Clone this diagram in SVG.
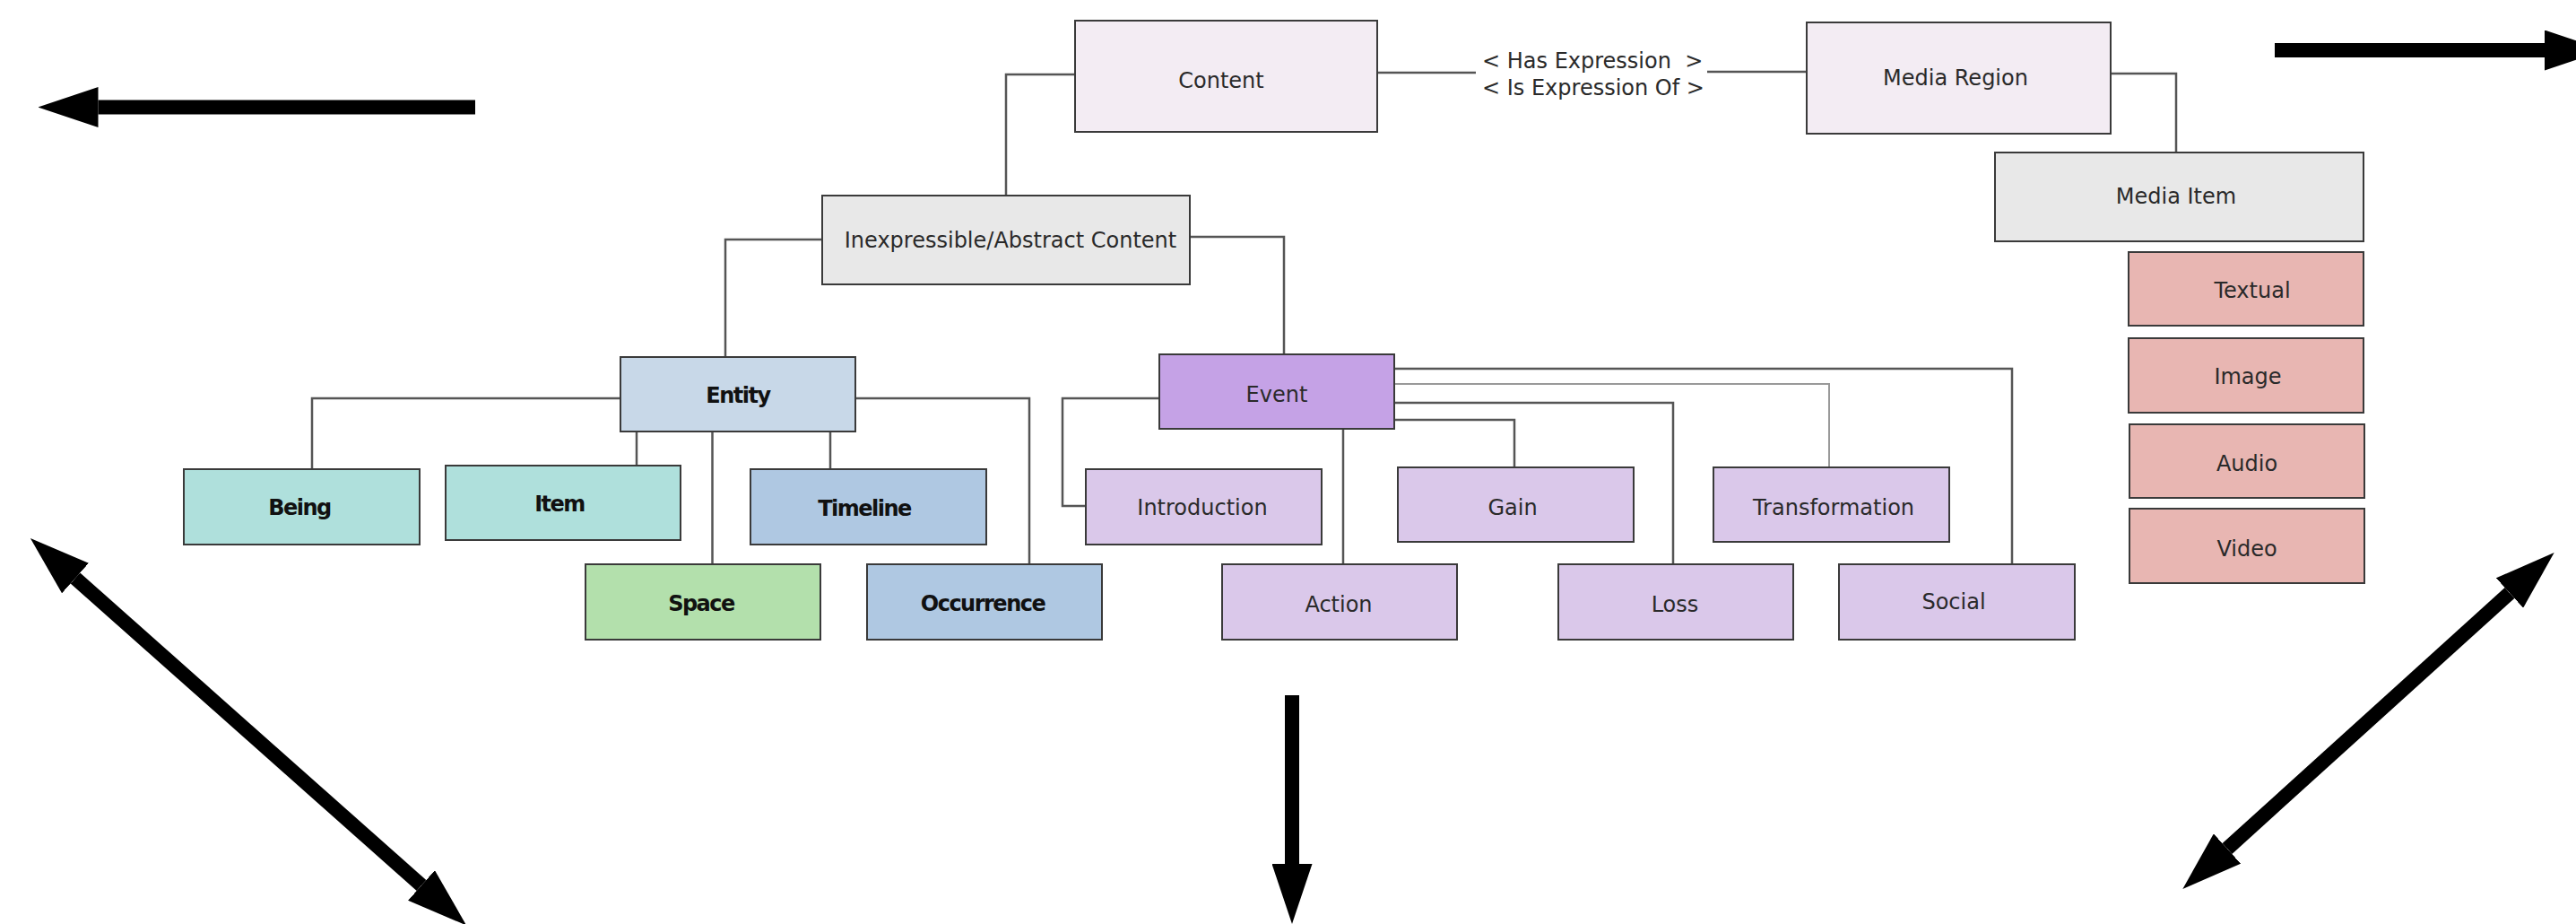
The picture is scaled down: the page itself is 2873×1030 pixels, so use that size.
<svg xmlns="http://www.w3.org/2000/svg" width="2873" height="1030" viewBox="0 0 2873 1030">
<style>
.box{stroke:#3a3a3a;stroke-width:2}
.lbl{font-family:"DejaVu Sans",sans-serif;font-size:24px;fill:#2a2a2a;text-anchor:middle}
.bold{font-family:"DejaVu Sans",sans-serif;font-size:24px;font-weight:bold;fill:#111;text-anchor:middle;letter-spacing:-1.5px}
.rel{font-family:"DejaVu Sans",sans-serif;font-size:24px;fill:#2a2a2a;white-space:pre}
.con{fill:none;stroke:#555;stroke-width:2.5}
.light{fill:none;stroke:#999;stroke-width:2}
.big{fill:none;stroke:#000;stroke-width:16}
.c-content{fill:#f3ecf3}.c-grey{fill:#e8e8e8}.c-entity{fill:#c8d8e8}.c-teal{fill:#afe0dc}
.c-blue{fill:#afc8e2}.c-green{fill:#b3e0ac}.c-event{fill:#c5a2e6}.c-sub{fill:#dac8ea}.c-media{fill:#e8b6b2}
</style>
<defs>
<marker id="head" viewBox="0 0 67 45" markerWidth="67" markerHeight="45" refX="0" refY="22.5" markerUnits="userSpaceOnUse" orient="auto-start-reverse">
<path d="M0,0 L67,22.5 L0,45 Z" fill="#000"/>
</marker>
</defs>
<rect width="2873" height="1030" fill="#fff"/>

<g id="connectors">
<polyline class="con" points="1199,83 1122,83 1122,218"/>
<line class="con" x1="1536" y1="81" x2="1646" y2="81"/>
<line class="con" x1="1904" y1="80" x2="2015" y2="80"/>
<polyline class="con" points="2354,82 2427,82 2427,170"/>
<polyline class="con" points="917,267 809,267 809,398"/>
<polyline class="con" points="1327,264 1432,264 1432,395"/>
<polyline class="con" points="692,444 348,444 348,523"/>
<line class="con" x1="710" y1="481" x2="710" y2="519"/>
<line class="con" x1="794.5" y1="481" x2="794.5" y2="629"/>
<line class="con" x1="926" y1="481" x2="926" y2="523"/>
<polyline class="con" points="954.5,444 1148,444 1148,629"/>
<polyline class="con" points="1293,444 1185,444 1185,564 1211,564"/>
<line class="con" x1="1498" y1="478" x2="1498" y2="629"/>
<polyline class="con" points="1555.6,468 1689,468 1689,521"/>
<polyline class="con" points="1555.6,449 1866,449 1866,629"/>
<polyline class="light" points="1555.6,428 2040,428 2040,521"/>
<polyline class="con" points="1555.6,411 2244,411 2244,629"/>
<text class="rel" x="1653" y="76">&lt; Has Expression  &gt;</text>
<text class="rel" x="1653" y="106">&lt; Is Expression Of &gt;</text>
</g>

<g id="arrows">
<line class="big" x1="530" y1="119.5" x2="109.5" y2="119.5" marker-end="url(#head)"/>
<line class="big" x1="2537" y1="56" x2="2838" y2="56" marker-end="url(#head)"/>
<line class="big" x1="1441" y1="775" x2="1441" y2="963" marker-end="url(#head)"/>
<line class="big" x1="84" y1="644.5" x2="470" y2="987" marker-start="url(#head)" marker-end="url(#head)"/>
<line class="big" x1="2799" y1="661" x2="2484" y2="946" marker-start="url(#head)" marker-end="url(#head)"/>
</g>

<g id="content"><rect class="box c-content" x="1199" y="23" width="337" height="124"/><text class="lbl" x="1362" y="98">Content</text></g>
<g id="media-region"><rect class="box c-content" x="2015" y="25" width="339" height="124"/><text class="lbl" x="2181" y="95">Media Region</text></g>
<g id="media-item"><rect class="box c-grey" x="2225" y="170" width="411" height="99"/><text class="lbl" x="2427" y="227">Media Item</text></g>
<g id="textual"><rect class="box c-media" x="2374" y="281" width="262" height="82"/><text class="lbl" x="2512" y="332">Textual</text></g>
<g id="image"><rect class="box c-media" x="2374" y="377" width="262" height="83"/><text class="lbl" x="2507" y="428">Image</text></g>
<g id="audio"><rect class="box c-media" x="2375" y="473" width="262" height="82"/><text class="lbl" x="2506" y="525">Audio</text></g>
<g id="video"><rect class="box c-media" x="2375" y="567" width="262" height="83"/><text class="lbl" x="2506" y="620">Video</text></g>
<g id="inexpressible"><rect class="box c-grey" x="917" y="218" width="410" height="99"/><text class="lbl" x="1127" y="276">Inexpressible/Abstract Content</text></g>
<g id="entity"><rect class="box c-entity" x="692" y="398" width="262" height="83"/><text class="bold" x="823" y="449">Entity</text></g>
<g id="being"><rect class="box c-teal" x="205" y="523" width="263" height="84"/><text class="bold" x="334" y="574">Being</text></g>
<g id="item"><rect class="box c-teal" x="497" y="519" width="262" height="83"/><text class="bold" x="624" y="570">Item</text></g>
<g id="timeline"><rect class="box c-blue" x="837" y="523" width="263" height="84"/><text class="bold" x="964" y="575">Timeline</text></g>
<g id="space"><rect class="box c-green" x="653" y="629" width="262" height="84"/><text class="bold" x="782" y="681">Space</text></g>
<g id="occurrence"><rect class="box c-blue" x="967" y="629" width="262" height="84"/><text class="bold" x="1096" y="681">Occurrence</text></g>
<g id="event"><rect class="box c-event" x="1293" y="395" width="262" height="83"/><text class="lbl" x="1424" y="448">Event</text></g>
<g id="introduction"><rect class="box c-sub" x="1211" y="523" width="263" height="84"/><text class="lbl" x="1341" y="574">Introduction</text></g>
<g id="gain"><rect class="box c-sub" x="1559" y="521" width="263" height="83"/><text class="lbl" x="1687" y="574">Gain</text></g>
<g id="transformation"><rect class="box c-sub" x="1911" y="521" width="263" height="83"/><text class="lbl" x="2045" y="574">Transformation</text></g>
<g id="action"><rect class="box c-sub" x="1363" y="629" width="262" height="84"/><text class="lbl" x="1493" y="682">Action</text></g>
<g id="loss"><rect class="box c-sub" x="1738" y="629" width="262" height="84"/><text class="lbl" x="1868" y="682">Loss</text></g>
<g id="social"><rect class="box c-sub" x="2051" y="629" width="263" height="84"/><text class="lbl" x="2179" y="679">Social</text></g>
</svg>
